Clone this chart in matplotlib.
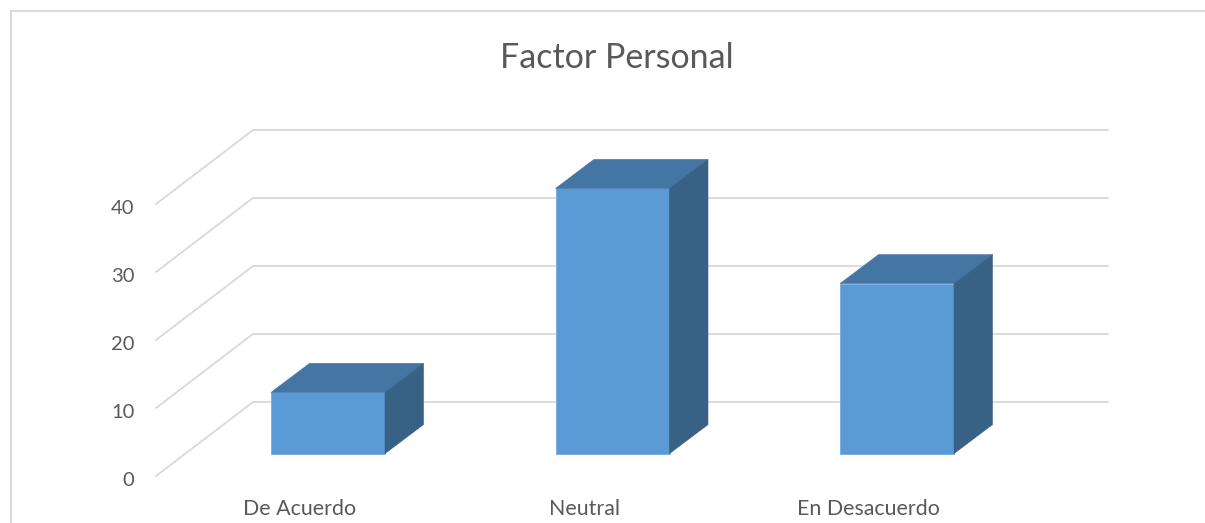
import numpy as np
import matplotlib
matplotlib.use('Agg')
from matplotlib import pyplot as plt
from matplotlib.lines import Line2D
from matplotlib.transforms import ScaledTranslation

categories = ['De Acuerdo', 'Neutral', 'En Desacuerdo']
values = [9, 39, 25]
y_ticks = [0, 10, 20, 30, 40]

plt.rcParams['font.family'] = ['Lato', 'DejaVu Sans']

W, H = 1205, 523
fig = plt.figure(figsize=(W / 100, H / 100), dpi=100, facecolor='white')
# axes box = the front floor corner up to the end of the back wall, in pixels
ax = fig.add_axes([156 / W, 1 - 476 / H, (1108 - 156) / W, (476 - 130) / H])

xpx = 284.5  # pixels per category
ypx = 6.8    # pixels per value unit
ax.set_xlim((156 - 328) / xpx, (1108 - 328) / xpx)
ax.set_ylim(0, (476 - 130) / ypx)
ax.patch.set_visible(False)
for s in ax.spines.values():
    s.set_visible(False)

# the fake 3d depth, converted to data units
wall_dx = 97 / xpx
wall_dy = 74 / ypx
bar_dx = 38.5 / xpx
bar_dy = 29 / ypx
bar_base = (476 - 453.6) / ypx
bar_w = 114 / xpx

grid_c = '#d9d9d9'
x0 = ax.get_xlim()[0]
x1 = ax.get_xlim()[1]
for v in y_ticks:
    ax.plot([x0, x0 + wall_dx, x1], [v, v + wall_dy, v + wall_dy], color=grid_c, lw=1.3,
            solid_joinstyle='miter', zorder=1, clip_on=False)

x = np.arange(len(categories))
ax.bar(x, values, bar_w, bottom=bar_base, color='#5b9bd5', edgecolor='#6ea6da', lw=0.5, zorder=3)
for xi, v in zip(x, values):
    left = xi - bar_w / 2
    right = xi + bar_w / 2
    top = bar_base + v
    # top face
    ax.fill([left, right, right + bar_dx, left + bar_dx], [top, top, top + bar_dy, top + bar_dy],
            color='#4575a2', lw=0.4, zorder=3)
    # side face
    ax.fill([right, right + bar_dx, right + bar_dx, right],
            [bar_base, bar_base + bar_dy, top + bar_dy, top],
            color='#376286', lw=0.4, zorder=3)

ax.set_yticks(y_ticks)
ax.set_xticks(x - 0.1, categories)
ax.tick_params(axis='y', length=0, pad=15.5, labelsize=14.5, labelcolor='#595959')
ax.tick_params(axis='x', length=0, pad=16.5, labelsize=15.4, labelcolor='#595959')
# tick labels sit a bit below their gridline ends
for lab in ax.get_yticklabels():
    lab.set_transform(lab.get_transform() + ScaledTranslation(0, -2 / 72, fig.dpi_scale_trans))

fig.text(617 / W, 1 - 57.5 / H, 'Factor Personal', ha='center', va='center', fontsize=24.5, color='#595959')

# chart frame, only top and left show in the crop
fig.add_artist(Line2D([11 / W, 11 / W], [0, 1 - 11 / H], color=grid_c, lw=1.4))
fig.add_artist(Line2D([11 / W, 1], [1 - 11 / H, 1 - 11 / H], color=grid_c, lw=1.4))

fig.savefig('out.png', dpi=100)
